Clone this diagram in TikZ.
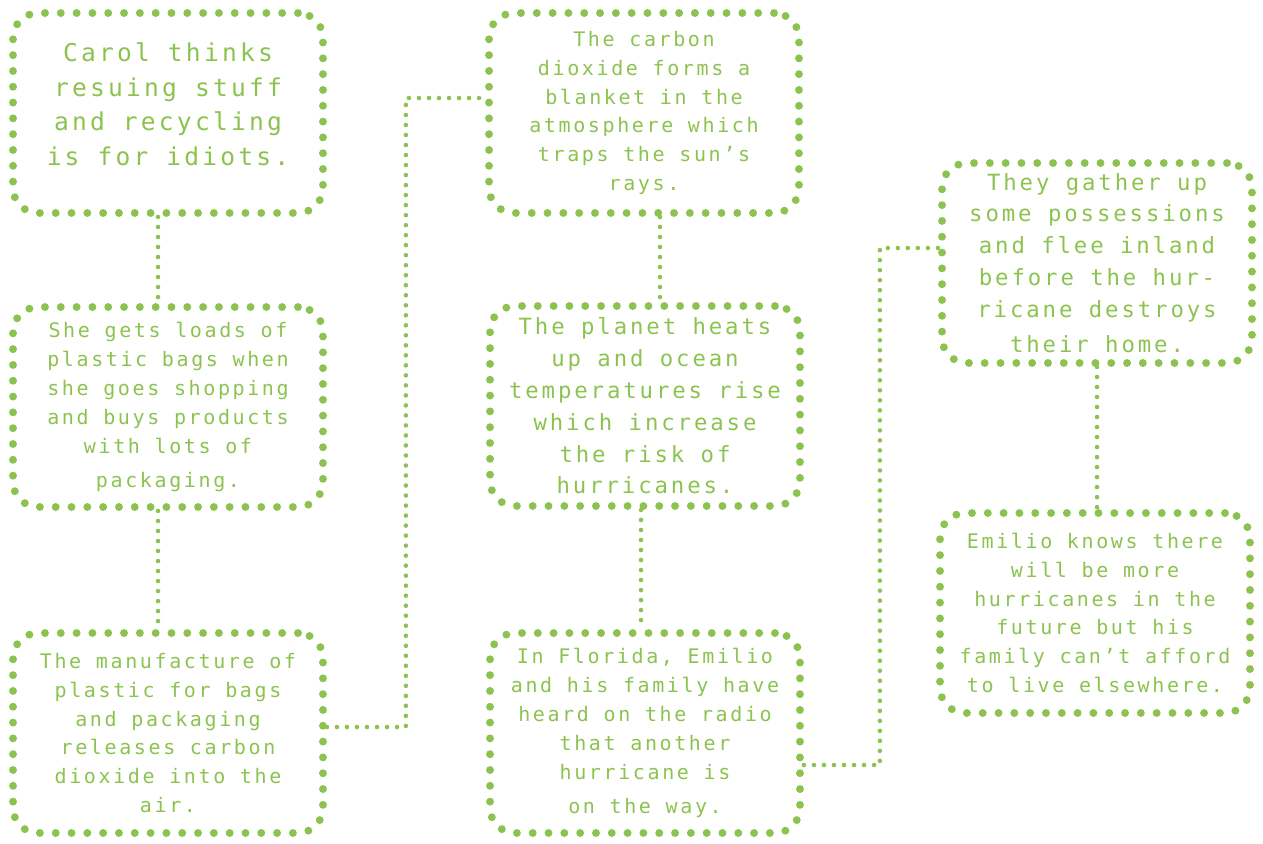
\documentclass[tikz,border=0pt]{standalone}
\usepackage{fontspec}
\newfontfamily\boxfont[LetterSpace=13]{DejaVu Sans Mono}
\definecolor{leaf}{RGB}{140,195,80}

\begin{document}
\begin{tikzpicture}[
    x=0.02cm, y=-0.02cm,
    % Dotted thought box
    thought/.style={
        rectangle,
        rounded corners=0.5cm,
        draw=leaf,
        line width=4.5pt,
        line cap=round,
        dash pattern=on 0pt off 9pt,
        minimum width=6.2cm,
        minimum height=4cm,
        text=leaf,
        align=center,
        font=\boxfont\fontsize{11.4}{16.4}\selectfont
    },
    bigtext/.style={
        font=\boxfont\fontsize{14}{19.8}\selectfont
    },
    midtext/.style={
        font=\boxfont\fontsize{12.7}{18.1}\selectfont
    },
    % Dotted connector
    link/.style={
        draw=leaf,
        line width=2.6pt,
        line cap=round,
        dash pattern=on 0pt off 5.7pt
    }
]
\useasboundingbox (0,0) rectangle (1263,843);

% === Column 1 ===
\node[thought, bigtext, text depth=0.36cm] (carol) at (168,113) {
    Carol thinks\\
    resuing stuff\\
    and recycling\\
    is for idiots.
};
\node[thought] (bags) at (168,407) {
    She gets loads of\\
    plastic bags when\\
    she goes shopping\\
    and buys products\\
    with lots of\\[3pt]
    packaging.
};
\node[thought] (plastic) at (168,733) {
    The manufacture of\\
    plastic for bags\\
    and packaging\\
    releases carbon\\
    dioxide into the\\
    air.
};

% === Column 2 ===
\node[thought] (blanket) at (644,113) {
    The carbon\\
    dioxide forms a\\
    blanket in the\\
    atmosphere which\\
    traps the sun’s\\
    rays.
};
\node[thought, midtext] (heat) at (645,406) {
    The planet heats\\
    up and ocean\\
    temperatures rise\\
    which increase\\
    the risk of\\
    hurricanes.
};
\node[thought] (florida) at (645,733) {
    In Florida, Emilio\\
    and his family have\\
    heard on the radio\\
    that another\\
    hurricane is\\[3pt]
    on the way.
};

% === Column 3 ===
\node[thought, midtext] (gather) at (1097,263) {
    They gather up\\
    some possessions\\
    and flee inland\\
    before the hur-\\
    ricane destroys\\[2pt]
    their home.
};
\node[thought] (emilio) at (1095,613) {
    Emilio knows there\\
    will be more\\
    hurricanes in the\\
    future but his\\
    family can’t afford\\
    to live elsewhere.
};

% === Connectors ===
\draw[link] ([xshift=-0.2cm]carol.south) -- ([xshift=-0.2cm]bags.north);
\draw[link] ([xshift=-0.2cm]bags.south) -- ([xshift=-0.2cm]plastic.north);
\draw[link] ([yshift=0.12cm]plastic.east) -- ++(1.58cm,0) |- ([yshift=0.3cm]blanket.west);
\draw[link] ([xshift=0.32cm]blanket.south) -- ([xshift=0.3cm]heat.north);
\draw[link] ([xshift=-0.08cm]heat.south) -- ([xshift=-0.08cm]florida.north);
\draw[link] ([yshift=-0.64cm]florida.east) -- ++(1.52cm,0) |- ([yshift=0.3cm]gather.west);
\draw[link] (gather.south) -- (gather.south |- emilio.north);

\end{tikzpicture}
\end{document}
